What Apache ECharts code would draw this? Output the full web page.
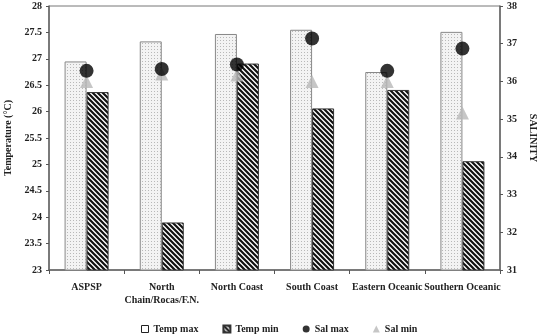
<!DOCTYPE html>
<html><head><meta charset="utf-8">
<script src="https://cdn.jsdelivr.net/npm/echarts@6/dist/echarts.min.js"></script>
<style>html,body{margin:0;padding:0;background:#fff}#c{width:540px;height:336px}</style>
</head><body><div id="c"></div>
<script>
const categories = ['ASPSP', 'North\nChain/Rocas/F.N.', 'North Coast', 'South Coast', 'Eastern Oceanic', 'Southern Oceanic'];
const tempMax = [26.95, 27.33, 27.47, 27.55, 26.75, 27.51];
const tempMin = [26.37, 23.9, 26.91, 26.06, 26.41, 25.06];
const salMax = [36.28, 36.33, 36.45, 37.14, 36.28, 36.87];
const salMin = [36.0, 36.2, 36.17, 36.0, 36.0, 35.16];

function dotPattern() {
  const c = document.createElement('canvas'); c.width = 3; c.height = 3;
  const g = c.getContext('2d');
  g.fillStyle = '#f3f3f3'; g.fillRect(0, 0, 3, 3);
  g.fillStyle = '#b8b8b8'; g.fillRect(1, 1, 1, 1);
  return c;
}
function stripePattern() {
  const s = 5;
  const c = document.createElement('canvas'); c.width = s; c.height = s;
  const g = c.getContext('2d');
  g.fillStyle = '#ffffff'; g.fillRect(0, 0, s, s);
  g.strokeStyle = '#111'; g.lineWidth = 2.2;
  g.beginPath();
  g.moveTo(-s, -s); g.lineTo(2 * s, 2 * s);
  g.moveTo(-s, 0); g.lineTo(s, 2 * s);
  g.moveTo(0, -s); g.lineTo(2 * s, s);
  g.stroke();
  return c;
}
const font = 'Liberation Serif';
const lbl = { color: '#222', fontFamily: font, fontWeight: 'bold', fontSize: 10 };
const chart = echarts.init(document.getElementById('c'));
chart.setOption({
  animation: false,
  textStyle: { fontFamily: font },
  grid: { left: 49, right: 40, top: 6, bottom: 66, show: true, borderColor: '#777', borderWidth: 1,
          containLabel: false, outerBoundsMode: 'none' },
  xAxis: {
    type: 'category', data: categories,
    axisLine: { lineStyle: { color: '#666', width: 1.5 } },
    axisTick: { show: true, length: 4, lineStyle: { color: '#555' } },
    axisLabel: Object.assign({}, lbl, { margin: 11, lineHeight: 13, interval: 0 })
  },
  yAxis: [
    { type: 'value', min: 23, max: 28, interval: 0.5, splitLine: { show: false },
      name: 'Temperature (°C)', nameLocation: 'middle', nameGap: 36,
      nameTextStyle: lbl,
      axisLine: { show: true, lineStyle: { color: '#666', width: 1.5 } },
      axisTick: { show: true, length: 3, lineStyle: { color: '#555' } },
      axisLabel: Object.assign({}, lbl, { margin: 7 }) },
    { type: 'value', min: 31, max: 38, interval: 1, splitLine: { show: false }, position: 'right',
      name: 'SALINITY', nameLocation: 'middle', nameGap: 28, nameRotate: -90,
      nameTextStyle: lbl,
      axisLine: { show: true, lineStyle: { color: '#666', width: 1.5 } },
      axisTick: { show: true, length: 3, lineStyle: { color: '#555' } },
      axisLabel: Object.assign({}, lbl, { margin: 7 }) }
  ],
  legend: {
    top: 319, left: 136, itemWidth: 7, itemHeight: 7, itemGap: 24,
    textStyle: lbl,
    data: [
      { name: 'Temp max', icon: 'rect', itemStyle: { color: '#fff', borderColor: '#222', borderWidth: 1 } },
      { name: 'Temp min', icon: 'rect' },
      { name: 'Sal max', icon: 'circle' },
      { name: 'Sal min', icon: 'triangle' }
    ]
  },
  series: [
    { name: 'Temp max', type: 'bar', data: tempMax, barWidth: 22, barGap: '0%',
      itemStyle: { color: { image: dotPattern(), repeat: 'repeat' }, borderColor: '#888', borderWidth: 1 } },
    { name: 'Temp min', type: 'bar', data: tempMin, barWidth: 22,
      itemStyle: { color: { image: stripePattern(), repeat: 'repeat' }, borderColor: '#333', borderWidth: 1 } },
    { name: 'Sal max', type: 'scatter', yAxisIndex: 1, data: salMax, symbol: 'circle', symbolSize: 14,
      itemStyle: { color: '#000' }, z: 5 },
    { name: 'Sal min', type: 'scatter', yAxisIndex: 1, data: salMin, symbol: 'triangle', symbolSize: 13,
      itemStyle: { color: '#b8b8b8' }, z: 4 }
  ]
});
</script></body></html>
